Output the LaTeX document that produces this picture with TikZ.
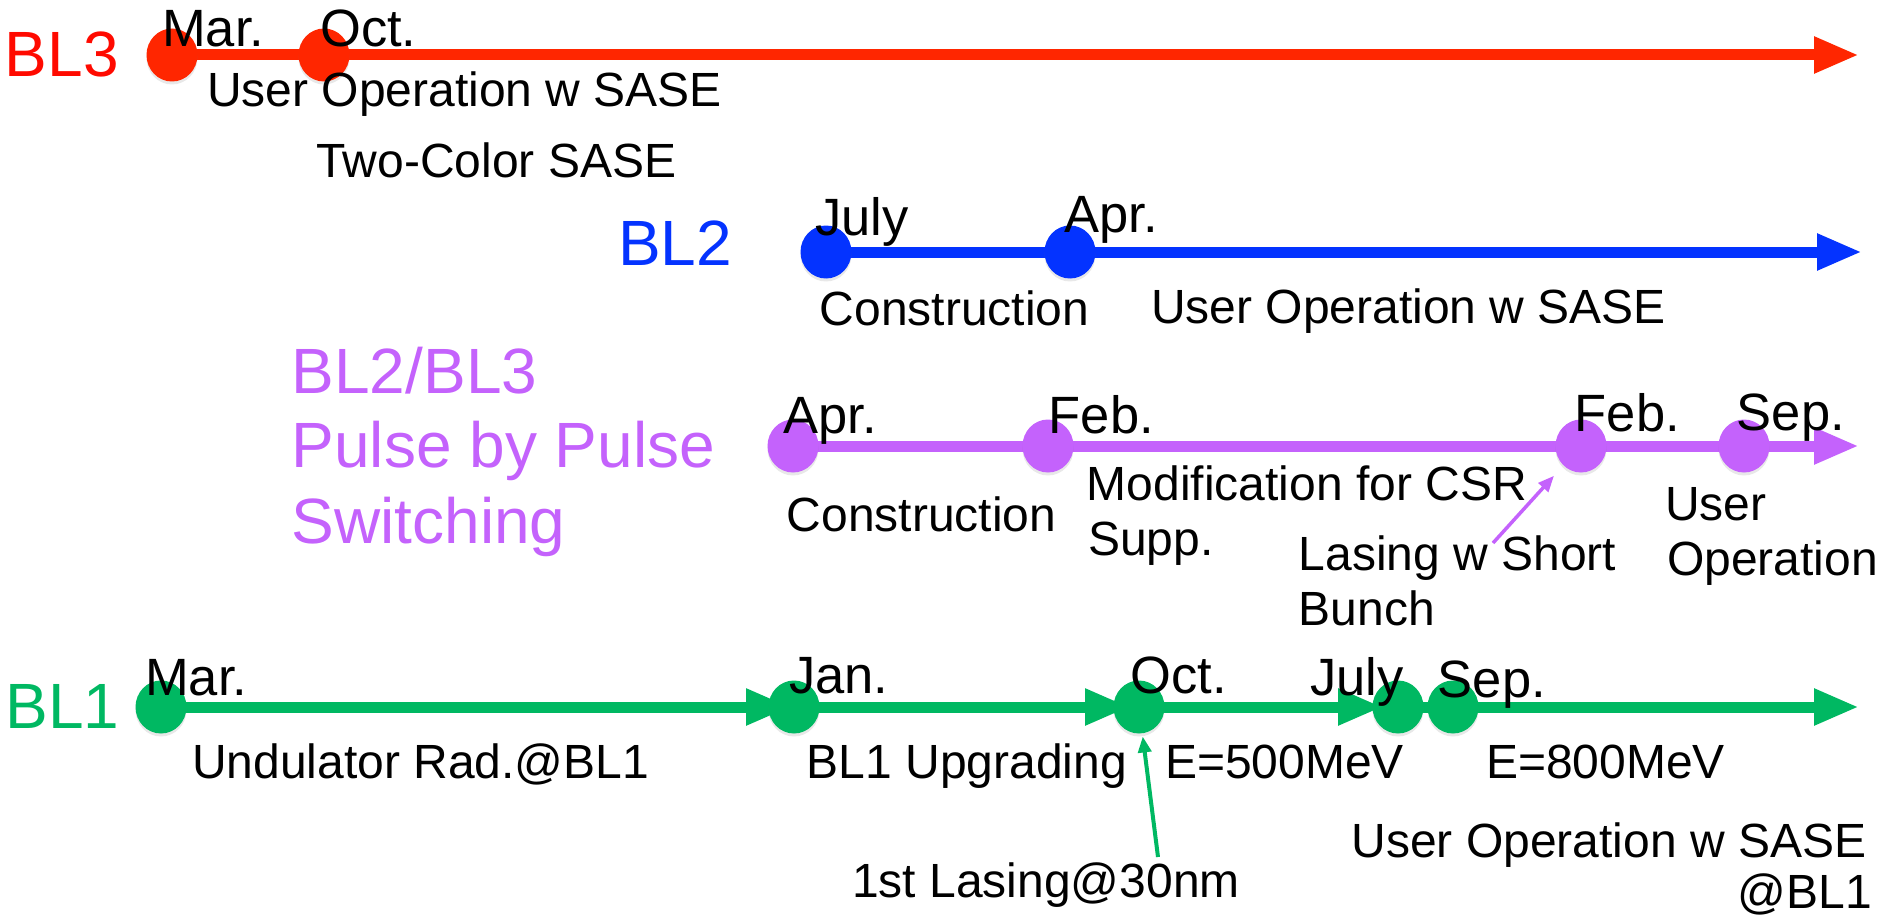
\documentclass[tikz,border=0pt]{standalone}
\usepackage{fontspec}
\setmainfont{Liberation Sans}
\usetikzlibrary{arrows.meta,shadows,shapes.geometric}
\pgfdeclarelayer{bg}
\pgfsetlayers{bg,main}
\definecolor{cred}{HTML}{FF2600}
\definecolor{credtxt}{HTML}{FF0A00}
\definecolor{cblue}{HTML}{0433FF}
\definecolor{cpurp}{HTML}{C462FC}
\definecolor{cgreen}{HTML}{00B862}
\begin{document}
\begin{tikzpicture}[x=1pt,y=-1pt,
 lbl/.style={anchor=base west, inner sep=0pt, font=\fontsize{48}{57}\selectfont},
 lble/.style={anchor=base east, inner sep=0pt, font=\fontsize{48}{57}\selectfont},
 mon/.style={anchor=base west, inner sep=0pt, font=\fontsize{52.5}{62}\selectfont},
 beam/.style={anchor=base west, inner sep=0pt, font=\fontsize{64}{75}\selectfont},
 plbl/.style={anchor=base west, inner sep=0pt, font=\fontsize{64}{75}\selectfont, text=cpurp},
 ev/.style={ellipse, inner sep=0pt, minimum width=51pt, minimum height=53pt, fill=#1, drop shadow={shadow xshift=0pt, shadow yshift=-3pt, opacity=0.18}},
 track/.style={draw=#1, line width=11pt, -{Triangle[length=45pt,width=34pt]}},
 pointer/.style={draw=#1, line width=4pt, -{Triangle[length=16pt,width=13pt]}}
]
\useasboundingbox (0,0) rectangle (1883,923);

% ---------- BL3 ----------
\node[beam, text=credtxt] (L3) at (4.6,77) {BL3};
\node[ev=cred] (r1) at (172,55) {};
\node[ev=cred] (r2) at (324,55) {};
\coordinate (r3) at (1859,55);
\node[mon] (r1t) at (162,46.7) {Mar.};
\node[mon] (r2t) at (320,47) {Oct.};
\node[lbl] (r3a) at (207,107) {User Operation w SASE};
\node[lbl] (r3b) at (316,178) {Two-Color SASE};

% ---------- BL2 ----------
\node[beam, text=cblue] (L2) at (618,265) {BL2};
\node[ev=cblue] (b1) at (826,252) {};
\node[ev=cblue] (b2) at (1070,252) {};
\coordinate (b3) at (1862,252);
\node[mon] (b1t) at (815,235) {July};
\node[mon] (b2t) at (1064,233) {Apr.};
\node[lbl] (b1b) at (819.5,325) {Construction};
\node[lbl] (b2b) at (1151,323) {User Operation w SASE};

% ---------- BL2/BL3 switching ----------
\node[plbl] (P1) at (291.5,393) {BL2/BL3};
\node[plbl] (P2) at (291.5,467) {Pulse by Pulse};
\node[plbl] (P3) at (291.5,543) {Switching};
\node[ev=cpurp] (p1) at (793,446) {};
\node[ev=cpurp] (p2) at (1048,446) {};
\node[ev=cpurp] (p3) at (1581,446) {};
\node[ev=cpurp] (p4) at (1744,446) {};
\coordinate (p5) at (1859,446);
\coordinate (pa) at (1493,543);
\node[mon] (p1t) at (783,433) {Apr.};
\node[mon] (p2t) at (1048.6,433) {Feb.};
\node[mon] (p3t) at (1574.6,431) {Feb.};
\node[mon] (p4t) at (1736.6,430) {Sep.};
\node[lbl] (p1b) at (786.5,531) {Construction};
\node[lbl] (p2a) at (1086.5,500) {Modification for CSR};
\node[lbl] (p2b) at (1088,555) {Supp.};
\node[lbl] (p3a) at (1298.5,570) {Lasing w Short};
\node[lbl] (p3b) at (1298.5,625) {Bunch};
\node[lbl] (p4a) at (1665,520) {User};
\node[lbl] (p4b) at (1667,575) {Operation};

% ---------- BL1 ----------
\node[beam, text=cgreen] (L1) at (5.3,728) {BL1};
\node[ev=cgreen] (g1) at (161,707) {};
\node[ev=cgreen] (g2) at (794,707) {};
\node[ev=cgreen] (g3) at (1139,707) {};
\node[ev=cgreen] (g4) at (1398,707) {};
\node[ev=cgreen] (g5) at (1453,707) {};
\coordinate (g6) at (1859,707);
\coordinate (ga) at (1158,857);
\node[mon] (g1t) at (145,695) {Mar.};
\node[mon] (g2t) at (789,693) {Jan.};
\node[mon] (g3t) at (1130.4,693) {Oct.};
\node[mon] (g4t) at (1310,695) {July};
\node[mon] (g5t) at (1437.6,697) {Sep.};
\node[lbl] (g1b) at (192,778) {Undulator Rad.@BL1};
\node[lbl] (g2b) at (806.5,778) {BL1 Upgrading};
\node[lbl] (g3b) at (1165,778) {E=500MeV};
\node[lbl] (g5b) at (1486,778) {E=800MeV};
\node[lbl] (gl) at (852,897) {1st Lasing@30nm};
\node[lble] (gu1) at (1866.5,857) {User Operation w SASE};
\node[lble] (gu2) at (1872,908) {@BL1};

% ---------- connectors ----------
\begin{pgfonlayer}{bg}
\draw[track=cred] (r1.center) -- (r3);
\draw[track=cblue] (b1.center) -- (b3);
\draw[track=cpurp] (p1.center) -- (p5);
\draw[track=cgreen] (g1.center) -- ([xshift=-3pt]g2.center);
\draw[track=cgreen] (g2.center) -- ([xshift=-9pt]g3.center);
\draw[track=cgreen] (g3.center) -- ([xshift=-15pt]g4.center);
\draw[track=cgreen] (g4.center) -- (g6);
\end{pgfonlayer}
\draw[pointer=cpurp, line width=3.5pt, shorten >=14pt] (pa) -- (p3);
\draw[pointer=cgreen, shorten >=3pt] (ga) -- (g3);
\end{tikzpicture}
\end{document}
